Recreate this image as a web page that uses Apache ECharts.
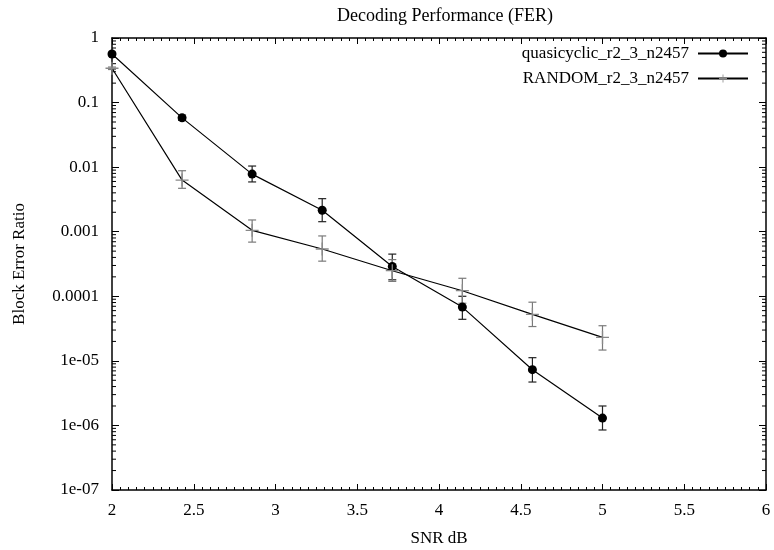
<!DOCTYPE html>
<html>
<head>
<meta charset="utf-8">
<script src="https://cdn.jsdelivr.net/npm/echarts@6/dist/echarts.min.js"></script>
<style>html,body{margin:0;padding:0;background:#fff}#c{width:774px;height:550px}</style>
</head>
<body>
<div id="c"></div>
<script>
var snr = [2, 2.4286, 2.8571, 3.2857, 3.7143, 4.1429, 4.5714, 5];
var quasiFER  = [0.565, 0.058, 0.0078, 0.00215, 0.00029, 6.8e-5, 7.3e-6, 1.3e-6];
var quasiLow  = [0.53, 0.053, 0.0059, 0.00143, 0.00018, 4.4e-5, 4.7e-6, 8.5e-7];
var quasiHigh = [0.60, 0.064, 0.0104, 0.00325, 0.00045, 1.0e-4, 1.12e-5, 2.0e-6];
var randomFER  = [0.34, 0.0063, 0.00105, 0.00054, 0.000249, 1.22e-4, 5.25e-5, 2.31e-5];
var randomLow  = [0.325, 0.0047, 0.00069, 0.00035, 0.00017, 7.8e-5, 3.4e-5, 1.47e-5];
var randomHigh = [0.355, 0.0088, 0.00152, 0.00086, 0.00037, 1.9e-4, 8.1e-5, 3.5e-5];
var yTickLabels = ['1e-07','1e-06','1e-05','0.0001','0.001','0.01','0.1','1'];
var seriesNames = ['quasicyclic_r2_3_n2457', 'RANDOM_r2_3_n2457'];

var FONT = 'Liberation Serif';
var FS = 17;
var chart = echarts.init(document.getElementById('c'), null, {renderer: 'canvas'});

function pts(xs, ys){ return xs.map(function(x,i){ return [x, ys[i]]; }); }
function errs(xs, lo, hi){ return xs.map(function(x,i){ return [x, lo[i], hi[i]]; }); }

function errRender(color){
  return function(params, api){
    var x = api.value(0);
    var lo = api.coord([x, api.value(1)]);
    var hi = api.coord([x, api.value(2)]);
    var hw = 4;
    var st = {stroke: color, lineWidth: 1.2};
    return {type: 'group', children: [
      {type:'line', shape:{x1:lo[0], y1:lo[1], x2:hi[0], y2:hi[1]}, style: st},
      {type:'line', shape:{x1:lo[0]-hw, y1:lo[1], x2:lo[0]+hw, y2:lo[1]}, style: st},
      {type:'line', shape:{x1:hi[0]-hw, y1:hi[1], x2:hi[0]+hw, y2:hi[1]}, style: st}
    ]};
  };
}

// minor tick positions on the log axis (axis decoration)
var minorY = [];
for (var d = -7; d < 0; d++) {
  for (var m = 2; m <= 9; m++) minorY.push([2, m * Math.pow(10, d)]);
}

var axisLine = {show: true, lineStyle: {color: '#000', width: 1.5}};

var option = {
  animation: false,
  backgroundColor: '#fff',
  title: {
    text: 'Decoding Performance (FER)',
    left: 440, top: 2, textAlign: 'center',
    textStyle: {fontFamily: FONT, fontSize: 18, fontWeight: 'normal', color: '#000'}
  },
  legend: {
    data: seriesNames,
    right: 20, top: 40,
    orient: 'vertical',
    align: 'right',
    itemWidth: 50, itemHeight: 10, itemGap: 8,
    textStyle: {fontFamily: FONT, fontSize: FS, color: '#000', padding: [0, 4, 0, 0]}
  },
  grid: {left: 112, right: 8, top: 38, bottom: 60, containLabel: false, outerBoundsMode: 'none'},
  xAxis: [{
    type: 'value', min: 2, max: 6, interval: 0.5,
    name: 'SNR dB', nameLocation: 'middle', nameGap: 40,
    nameTextStyle: {fontFamily: FONT, fontSize: FS, color: '#000'},
    axisLine: axisLine,
    axisTick: {show: true, inside: true, length: 6, lineStyle: {color: '#000'}},
    minorTick: {show: true, splitNumber: 10, length: 3, lineStyle: {color: '#000'}},
    axisLabel: {fontFamily: FONT, fontSize: FS, color: '#000', margin: 12},
    splitLine: {show: false}
  }, {
    type: 'value', min: 2, max: 6, interval: 0.5, position: 'top',
    axisLine: axisLine,
    axisTick: {show: true, inside: true, length: 6, lineStyle: {color: '#000'}},
    minorTick: {show: true, splitNumber: 10, length: 3, lineStyle: {color: '#000'}},
    axisLabel: {show: false},
    splitLine: {show: false}
  }],
  yAxis: [{
    type: 'log', logBase: 10, min: 1e-7, max: 1,
    name: 'Block Error Ratio', nameLocation: 'middle', nameGap: 84, nameRotate: 90,
    nameTextStyle: {fontFamily: FONT, fontSize: FS, color: '#000'},
    axisLine: axisLine,
    axisTick: {show: true, inside: true, length: 7, lineStyle: {color: '#000'}},
    axisLabel: {
      fontFamily: FONT, fontSize: FS, color: '#000', margin: 13,
      formatter: function(v){ return yTickLabels[Math.round(Math.log10(v)) + 7]; }
    },
    splitLine: {show: false}
  }, {
    type: 'log', logBase: 10, min: 1e-7, max: 1, position: 'right',
    axisLine: axisLine,
    axisTick: {show: true, inside: true, length: 7, lineStyle: {color: '#000'}},
    axisLabel: {show: false},
    splitLine: {show: false}
  }],
  series: [
    {
      type: 'custom', name: 'minorY', silent: true, z: 1,
      xAxisIndex: 0, yAxisIndex: 0,
      renderItem: function(params, api){
        var p = api.coord([api.value(0), api.value(1)]);
        var cs = params.coordSys;
        var st = {stroke: '#000', lineWidth: 1};
        return {type:'group', children:[
          {type:'line', shape:{x1:cs.x, y1:p[1], x2:cs.x+4, y2:p[1]}, style: st},
          {type:'line', shape:{x1:cs.x+cs.width, y1:p[1], x2:cs.x+cs.width-4, y2:p[1]}, style: st}
        ]};
      },
      data: minorY
    },
    {
      type: 'custom', name: 'quasiErr', silent: true, z: 2,
      renderItem: errRender('#222'),
      data: errs(snr, quasiLow, quasiHigh)
    },
    {
      type: 'custom', name: 'randomErr', silent: true, z: 2,
      renderItem: errRender('#7a7a7a'),
      data: errs(snr, randomLow, randomHigh)
    },
    {
      type: 'line', name: seriesNames[0], z: 3,
      data: pts(snr, quasiFER),
      symbol: 'circle', symbolSize: 9,
      itemStyle: {color: '#000'},
      lineStyle: {color: '#000', width: 1.2}
    },
    {
      type: 'line', name: seriesNames[1], z: 3,
      data: pts(snr, randomFER),
      symbol: 'path://M0,4.5H10V5.5H0Z M4.5,0H5.5V10H4.5Z', symbolSize: 13,
      itemStyle: {color: '#888'},
      lineStyle: {color: '#000', width: 1.2}
    }
  ]
};
chart.setOption(option);
</script>
</body>
</html>
